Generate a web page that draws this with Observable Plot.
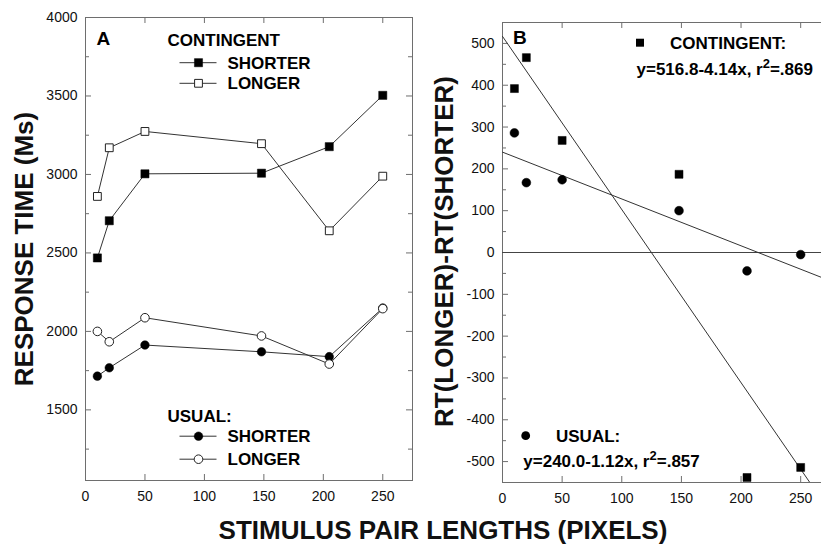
<!DOCTYPE html>
<html><head><meta charset="utf-8">
<script src="https://cdn.jsdelivr.net/npm/d3@7"></script>
<script src="https://cdn.jsdelivr.net/npm/@observablehq/plot@0.6"></script>
<style>
html,body{margin:0;padding:0;background:#fff;overflow:hidden;}
#wrap{position:relative;width:821px;height:544px;overflow:hidden;background:#fff;}
#wrap svg{position:absolute;top:0;overflow:visible;}
</style></head><body><div id="wrap"></div>
<script>
// ---- data ----
const lengths = [10, 20, 50, 148, 205, 250];
const contingentShorter = [2468, 2705, 3004, 3008, 3177, 3504];
const contingentLonger  = [2860, 3170, 3274, 3196, 2641, 2989];
const usualShorter      = [1715, 1768, 1913, 1870, 1839, 2149];
const usualLonger       = [2000, 1934, 2087, 1971, 1792, 2145];
const contingentDiff = [392, 466, 268, 187, -538, -514];
const usualDiff      = [286, 167, 174, 100, -44, -5];
const fitNames      = ["CONTINGENT:", "USUAL:"];
const fitIntercepts = [516.8, 240.0];
const fitSlopes     = [-4.14, -1.12];
const fitR2         = [".869", ".857"];
const xDomain  = [0, 275];
const yDomainA = [1050, 4000];
const yDomainB = [-550, 550];
const xTicks   = [0, 50, 100, 150, 200, 250];
const yTicksA  = [1500, 2000, 2500, 3000, 3500, 4000];
const yMinorA  = [1250, 1750, 2250, 2750, 3250, 3750];
const yTicksB  = [-500, -400, -300, -200, -100, 0, 100, 200, 300, 400, 500];
const yMinorB  = [-450, -350, -250, -150, -50, 50, 150, 250, 350, 450];

// ---- style ----
const F = '"Liberation Sans", Arial, Helvetica, sans-serif';
const frameColor = "#6e6e6e";
const lineColor = "#333";
const textColor = "#111";
const wrap = document.getElementById("wrap");

const rows = (ys) => lengths.map((x, i) => ({x, y: ys[i]}));

function tickMarks(fw, fh, yMajor, yMinor, rightTicks) {
  const m = [
    Plot.tickY(yMajor, {y: d => d, insetRight: fw - 6, stroke: frameColor}),
    Plot.tickY(yMinor, {y: d => d, insetRight: fw - 4, stroke: frameColor}),
    Plot.tickX(xTicks.slice(1), {x: d => d, insetTop: fh - 6, stroke: frameColor}),
    Plot.tickX(xTicks.slice(1), {x: d => d, insetBottom: fh - 6, stroke: frameColor})
  ];
  if (rightTicks) {
    m.push(Plot.tickY(yMajor, {y: d => d, insetLeft: fw - 6, stroke: frameColor}));
    m.push(Plot.tickY(yMinor, {y: d => d, insetLeft: fw - 4, stroke: frameColor}));
  }
  return m;
}

// ---------- Panel A ----------
const WA = 430, HA = 544, mlA = 85, mrA = 18, mtA = 17, mbA = 64;
const fwA = WA - mlA - mrA, fhA = HA - mtA - mbA;
const plotA = Plot.plot({
  width: WA, height: HA,
  marginLeft: mlA, marginRight: mrA, marginTop: mtA, marginBottom: mbA,
  style: {fontFamily: F, fontSize: "14px", color: textColor, background: "transparent"},
  x: {domain: xDomain},
  y: {domain: yDomainA},
  marks: [
    ...tickMarks(fwA, fhA, yTicksA, yMinorA, true),
    Plot.frame({stroke: frameColor}),
    Plot.axisY(yTicksA, {tickSize: 0, tickPadding: 8, label: null, tickFormat: d => String(d), fontSize: 14, fill: textColor}),
    Plot.axisX(xTicks, {tickSize: 0, tickPadding: 11, label: null, tickFormat: d => String(d), fontSize: 14, fill: textColor}),
    Plot.line(rows(contingentShorter), {x: "x", y: "y", stroke: lineColor, strokeWidth: 1}),
    Plot.line(rows(contingentLonger), {x: "x", y: "y", stroke: lineColor, strokeWidth: 1}),
    Plot.line(rows(usualShorter), {x: "x", y: "y", stroke: lineColor, strokeWidth: 1}),
    Plot.line(rows(usualLonger), {x: "x", y: "y", stroke: lineColor, strokeWidth: 1}),
    Plot.dot(rows(contingentShorter), {x: "x", y: "y", symbol: "square", r: 4.6, fill: "#000", stroke: "#000", strokeWidth: 0.5}),
    Plot.dot(rows(contingentLonger), {x: "x", y: "y", symbol: "square", r: 4.4, fill: "#fff", stroke: "#222", strokeWidth: 1}),
    Plot.dot(rows(usualShorter), {x: "x", y: "y", symbol: "circle", r: 4.3, fill: "#000", stroke: "#000", strokeWidth: 0.5}),
    Plot.dot(rows(usualLonger), {x: "x", y: "y", symbol: "circle", r: 4.3, fill: "#fff", stroke: "#222", strokeWidth: 1})
  ]
});
plotA.style.left = "0px";
wrap.appendChild(plotA);

function legendRow(g, cx, cy, symbolType, filled, label, tx) {
  g.append("line").attr("x1", cx - 19).attr("x2", cx + 18).attr("y1", cy).attr("y2", cy)
    .attr("stroke", lineColor).attr("stroke-width", 1);
  const r = symbolType === d3.symbolSquare ? (filled ? 4.6 : 4.4) : 4.3;
  g.append("path").attr("d", d3.symbol(symbolType, Math.PI * r * r)())
    .attr("transform", `translate(${cx},${cy})`)
    .attr("fill", filled ? "#000" : "#fff").attr("stroke", filled ? "#000" : "#222")
    .attr("stroke-width", filled ? 0.5 : 1);
  g.append("text").attr("x", tx).attr("y", cy + 5.8).text(label);
}
{
  const s = d3.select(plotA);
  const g = s.append("g").attr("font-family", F).attr("font-weight", "bold").attr("fill", "#000")
    .attr("font-size", 17).attr("text-anchor", "start");
  g.append("text").attr("x", 96.5).attr("y", 45).attr("font-size", 19).text("A");
  g.append("text").attr("x", 167.5).attr("y", 46).text("CONTINGENT");
  legendRow(g, 198.5, 62.7, d3.symbolSquare, true, "SHORTER", 227.5);
  legendRow(g, 198.5, 83.3, d3.symbolSquare, false, "LONGER", 227.5);
  g.append("text").attr("x", 167.5).attr("y", 421.7).text("USUAL:");
  legendRow(g, 198.5, 436.2, d3.symbolCircle, true, "SHORTER", 227.5);
  legendRow(g, 198.5, 459.2, d3.symbolCircle, false, "LONGER", 227.5);
  s.append("text").attr("transform", "translate(33,249) rotate(-90)")
    .attr("text-anchor", "middle").attr("font-family", F).attr("font-weight", "bold")
    .attr("font-size", 26).attr("fill", textColor).text("RESPONSE TIME (Ms)");
}

// ---------- Panel B ----------
const offB = 430;
const WB = 410, HB = 544, mlB = 72, mrB = 10, mtB = 22, mbB = 62;
const fwB = WB - mlB - mrB, fhB = HB - mtB - mbB;
const fitData = fitIntercepts.flatMap((a, k) => xDomain.map(x => ({x, y: a + fitSlopes[k] * x, k})));
const plotB = Plot.plot({
  width: WB, height: HB,
  marginLeft: mlB, marginRight: mrB, marginTop: mtB, marginBottom: mbB,
  style: {fontFamily: F, fontSize: "14px", color: textColor, background: "transparent"},
  x: {domain: xDomain},
  y: {domain: yDomainB},
  marks: [
    ...tickMarks(fwB, fhB, yTicksB, yMinorB, true),
    Plot.frame({stroke: frameColor}),
    Plot.ruleY([0], {stroke: "#444", strokeWidth: 1}),
    Plot.axisY(yTicksB, {tickSize: 0, tickPadding: 8, label: null, tickFormat: d => String(d), fontSize: 14, fill: textColor}),
    Plot.axisX(xTicks, {tickSize: 0, tickPadding: 11, label: null, tickFormat: d => String(d), fontSize: 14, fill: textColor}),
    Plot.line(fitData, {x: "x", y: "y", z: "k", stroke: lineColor, strokeWidth: 1, clip: true}),
    Plot.dot(rows(contingentDiff), {x: "x", y: "y", symbol: "square", r: 4.5, fill: "#000", stroke: "#000", strokeWidth: 0.5}),
    Plot.dot(rows(usualDiff), {x: "x", y: "y", symbol: "circle", r: 4.4, fill: "#000", stroke: "#000", strokeWidth: 0.5})
  ]
});
plotB.style.left = offB + "px";
wrap.appendChild(plotB);

function equation(g, x, y, k) {
  const t = g.append("text").attr("x", x).attr("y", y);
  const sign = fitSlopes[k] < 0 ? "-" : "+";
  t.append("tspan").text(`y=${fitIntercepts[k].toFixed(1)}${sign}${Math.abs(fitSlopes[k]).toFixed(2)}x, r`);
  t.append("tspan").attr("dy", -7).attr("font-size", 13).text("2");
  t.append("tspan").attr("dy", 7).text(`=${fitR2[k]}`);
}
{
  const s = d3.select(plotB);
  const g = s.append("g").attr("font-family", F).attr("font-weight", "bold").attr("fill", "#000")
    .attr("font-size", 17).attr("text-anchor", "start");
  g.append("text").attr("x", 513 - offB).attr("y", 44).attr("font-size", 19).text("B");
  g.append("path").attr("d", d3.symbol(d3.symbolSquare, Math.PI * 4.5 * 4.5)())
    .attr("transform", `translate(${640 - offB},42.7)`).attr("fill", "#000");
  g.append("text").attr("x", 670 - offB).attr("y", 48.5).text(fitNames[0]);
  equation(g, 636.5 - offB, 75, 0);
  g.append("path").attr("d", d3.symbol(d3.symbolCircle, Math.PI * 4.4 * 4.4)())
    .attr("transform", `translate(${525.7 - offB},435.7)`).attr("fill", "#000");
  g.append("text").attr("x", 556 - offB).attr("y", 441.7).text(fitNames[1]);
  equation(g, 523.3 - offB, 466.7, 1);
  s.append("text").attr("transform", `translate(${453 - offB},251.5) rotate(-90)`)
    .attr("text-anchor", "middle").attr("font-family", F).attr("font-weight", "bold")
    .attr("font-size", 26).attr("fill", textColor).text("RT(LONGER)-RT(SHORTER)");
}

// ---------- shared x title ----------
const over = d3.create("svg").attr("width", 821).attr("height", 544)
  .style("left", "0px").style("pointer-events", "none");
over.append("text").attr("x", 443).attr("y", 539).attr("text-anchor", "middle")
  .attr("font-family", F).attr("font-weight", "bold").attr("font-size", 26)
  .attr("fill", textColor).text("STIMULUS PAIR LENGTHS (PIXELS)");
wrap.appendChild(over.node());
</script></body></html>
